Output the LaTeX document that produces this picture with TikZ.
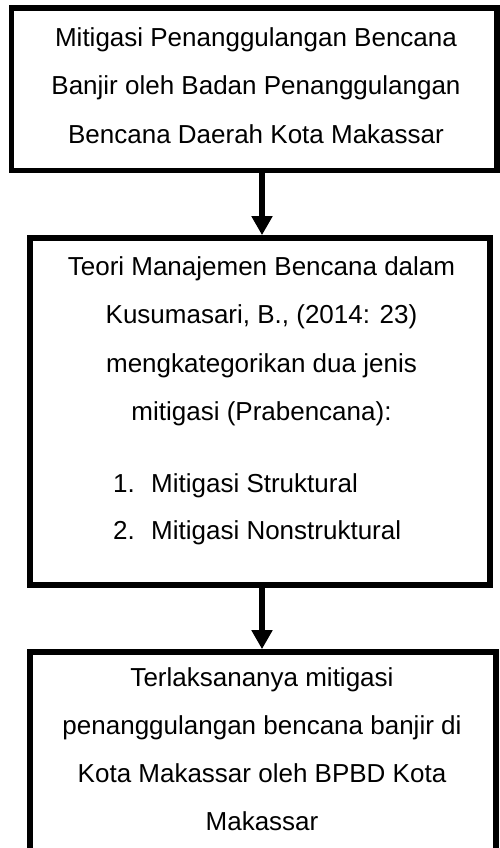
\documentclass[tikz,border=0pt]{standalone}
\usepackage{fontspec}
\setmainfont{Liberation Sans}
\usetikzlibrary{arrows.meta}
\begin{document}
\begin{tikzpicture}[x=1pt,y=-1pt,
  box/.style={draw=black, line width=5.7pt, fill=none, inner sep=0pt},
  txt/.style={anchor=base, inner sep=0pt, font=\fontsize{26pt}{48pt}\selectfont},
  txtl/.style={anchor=base west, inner sep=0pt, font=\fontsize{26pt}{48pt}\selectfont},
  arr/.style={line width=6.7pt, -{Triangle[width=20pt,length=19pt]}}]
\useasboundingbox (0,0) rectangle (499,848);
\fill[white] (0,0) rectangle (499,848);
% boxes
\node[box, minimum width=485.5pt, minimum height=162.5pt] (b1) at (254.25,89.25) {};
\node[box, minimum width=460pt, minimum height=347pt] (b2) at (260,411.5) {};
\node[box, minimum width=466pt, minimum height=199pt] (b3) at (263,751.5) {};
% box 1 text
\node[txt] (t11) at (256,47) {Mitigasi Penanggulangan Bencana};
\node[txt] (t12) at (256,95) {Banjir oleh Badan Penanggulangan};
\node[txt] (t13) at (256,143) {Bencana Daerah Kota Makassar};
% box 2 text
\node[txt] (t21) at (261.5,275) {Teori Manajemen Bencana dalam};
\node[txt] (t22) at (261.5,323) {Kusumasari, B., (2014: 23)};
\node[txt] (t23) at (261.5,372) {mengkategorikan dua jenis};
\node[txt] (t24) at (261.5,420) {mitigasi (Prabencana):};
\node[txtl] (n1) at (113,492) {1.};
\node[txtl] (l1) at (151,492) {Mitigasi Struktural};
\node[txtl] (n2) at (113,539) {2.};
\node[txtl] (l2) at (151,539) {Mitigasi Nonstruktural};
% box 3 text
\node[txt] (t31) at (262,686) {Terlaksananya mitigasi};
\node[txt] (t32) at (262,734) {penanggulangan bencana banjir di};
\node[txt] (t33) at (262,782) {Kota Makassar oleh BPBD Kota};
\node[txt] (t34) at (262,830) {Makassar};
% arrows
\draw[arr] ([xshift=2pt]b2.north |- b1.south) -- ([xshift=2pt]b2.north);
\draw[arr] ([xshift=2pt]b2.south) -- ([xshift=2pt]b2.south |- b3.north);
\end{tikzpicture}
\end{document}
